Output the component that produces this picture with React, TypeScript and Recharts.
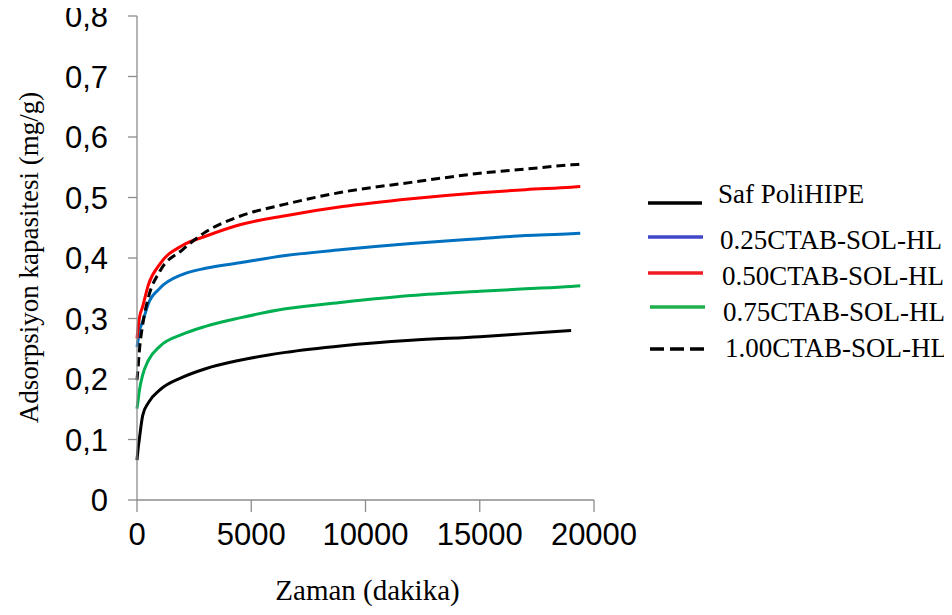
import React from 'react';
import { LineChart, Line, XAxis, YAxis, Legend, Label } from 'recharts';

// time (dakika)
const times = [0, 50, 100, 250, 500, 1000, 2000, 3000, 4500, 6500, 9000, 12000, 15000, 17000, 19000, 19400];

// adsorption capacity (mg/g)
const safPoliHIPE = [0.066, 0.085, 0.1, 0.14, 0.161, 0.182, 0.203, 0.217, 0.231, 0.244, 0.255, 0.264, 0.27, 0.275, 0.28, null];
const ctab025 = [0.253, 0.265, 0.278, 0.295, 0.325, 0.35, 0.373, 0.383, 0.392, 0.404, 0.414, 0.424, 0.432, 0.437, 0.44, 0.441];
const ctab050 = [0.267, 0.285, 0.3, 0.32, 0.356, 0.39, 0.421, 0.436, 0.455, 0.47, 0.485, 0.498, 0.508, 0.513, 0.517, 0.518];
const ctab075 = [0.151, 0.165, 0.18, 0.207, 0.231, 0.254, 0.274, 0.287, 0.301, 0.316, 0.327, 0.338, 0.345, 0.349, 0.353, 0.354];
const ctab100 = [0.198, 0.22, 0.245, 0.29, 0.335, 0.378, 0.414, 0.443, 0.469, 0.489, 0.509, 0.525, 0.54, 0.547, 0.554, 0.555];

const seriesNames = ['Saf PoliHIPE', '0.25CTAB-SOL-HL', '0.50CTAB-SOL-HL', '0.75CTAB-SOL-HL', '1.00CTAB-SOL-HL'];
const xTicks = [0, 5000, 10000, 15000, 20000];
const yTicks = [0, 0.1, 0.2, 0.3, 0.4, 0.5, 0.6, 0.7, 0.8];

const lineColors = ['#000000', '#0070C0', '#FF0000', '#00B050', '#000000'];
const legendColors = ['#000000', '#4047C8', '#F01C24', '#22B04C', '#000000'];
const lineDash = [undefined, undefined, undefined, undefined, '9 5'];
const legendDash = [undefined, undefined, undefined, undefined, '14 6'];
const keys = ['s0', 's1', 's2', 's3', 's4'];

const data = times.map((t, i) => ({
  t,
  s0: safPoliHIPE[i],
  s1: ctab025[i],
  s2: ctab050[i],
  s3: ctab075[i],
  s4: ctab100[i],
}));

// legend layout (px, relative to legend box)
const legTextX = [80, 82, 84, 85, 87];
const legTextY = [18, 64, 100, 136, 172];
const legLineY = [27, 61, 97, 131, 173];
const legLineX1 = [10, 10, 10, 12, 12];
const legLineX2 = [64, 65, 65, 67, 70];

const serif = '"Liberation Serif", "Times New Roman", serif';
const sans = '"Liberation Sans", Arial, sans-serif';
const axisColor = '#8c8c8c';

const renderLegend = () => (
  <svg width={310} height={200} style={{ display: 'block' }}>
    {seriesNames.map((name, i) => (
      <g key={name}>
        <line
          x1={legLineX1[i]}
          x2={legLineX2[i]}
          y1={legLineY[i]}
          y2={legLineY[i]}
          stroke={legendColors[i]}
          strokeWidth={3.5}
          strokeDasharray={legendDash[i]}
        />
        <text
          x={legTextX[i]}
          y={legTextY[i]}
          dominantBaseline="central"
          fontFamily={serif}
          fontSize={27}
          fill="#000"
        >
          {name}
        </text>
      </g>
    ))}
  </svg>
);

const yFmt = (v: number) => (v === 0 ? '0' : v.toFixed(1).replace('.', ','));

export default function App() {
  return (
    <div style={{ width: 952, height: 615, margin: '-8px 0 0 -8px' }}>
      <LineChart
        width={952}
        height={615}
        data={data}
        margin={{ top: 16, right: 358, bottom: 0, left: 0 }}
      >
        <XAxis
          dataKey="t"
          type="number"
          domain={[0, 20000]}
          ticks={xTicks}
          interval={0}
          height={115}
          tickSize={12}
          tickMargin={11}
          axisLine={{ stroke: axisColor, strokeWidth: 1.3 }}
          tickLine={{ stroke: axisColor, strokeWidth: 1.3 }}
          tick={{ fontFamily: sans, fontSize: 31, fill: '#000' }}
        >
          <Label
            content={(props: any) => {
              const vb = props.viewBox || { x: 137, y: 500, width: 457, height: 115 };
              return (
                <text
                  x={vb.x + vb.width / 2 + 2}
                  y={vb.y + 100}
                  textAnchor="middle"
                  fontFamily={serif}
                  fontSize={29}
                  fill="#000"
                >
                  Zaman (dakika)
                </text>
              );
            }}
          />
        </XAxis>
        <YAxis
          type="number"
          domain={[0, 0.8]}
          ticks={yTicks}
          interval={0}
          width={137}
          tickSize={9}
          tickMargin={20}
          tickFormatter={yFmt}
          axisLine={{ stroke: axisColor, strokeWidth: 1.3 }}
          tickLine={{ stroke: axisColor, strokeWidth: 1.3 }}
          tick={{ fontFamily: sans, fontSize: 31, fill: '#000' }}
        >
          <Label
            content={(props: any) => {
              const vb = props.viewBox || { x: 0, y: 16, width: 137, height: 484 };
              const x = vb.x + 38;
              const y = vb.y + vb.height / 2 - 0.5;
              return (
                <text
                  x={x}
                  y={y}
                  transform={`rotate(-90, ${x}, ${y})`}
                  textAnchor="middle"
                  fontFamily={serif}
                  fontSize={27}
                  fill="#000"
                >
                  Adsorpsiyon kapasitesi (mg/g)
                </text>
              );
            }}
          />
        </YAxis>
        <Legend
          layout="vertical"
          align="center"
          verticalAlign="middle"
          content={renderLegend}
          wrapperStyle={{ left: 638, top: 176, width: 310, height: 200 }}
        />
        {keys.map((k, i) => (
          <Line
            key={k}
            dataKey={k}
            name={seriesNames[i]}
            type="monotone"
            stroke={lineColors[i]}
            strokeWidth={3}
            strokeDasharray={lineDash[i]}
            dot={false}
            activeDot={false}
            connectNulls={false}
            isAnimationActive={false}
          />
        ))}
      </LineChart>
    </div>
  );
}
